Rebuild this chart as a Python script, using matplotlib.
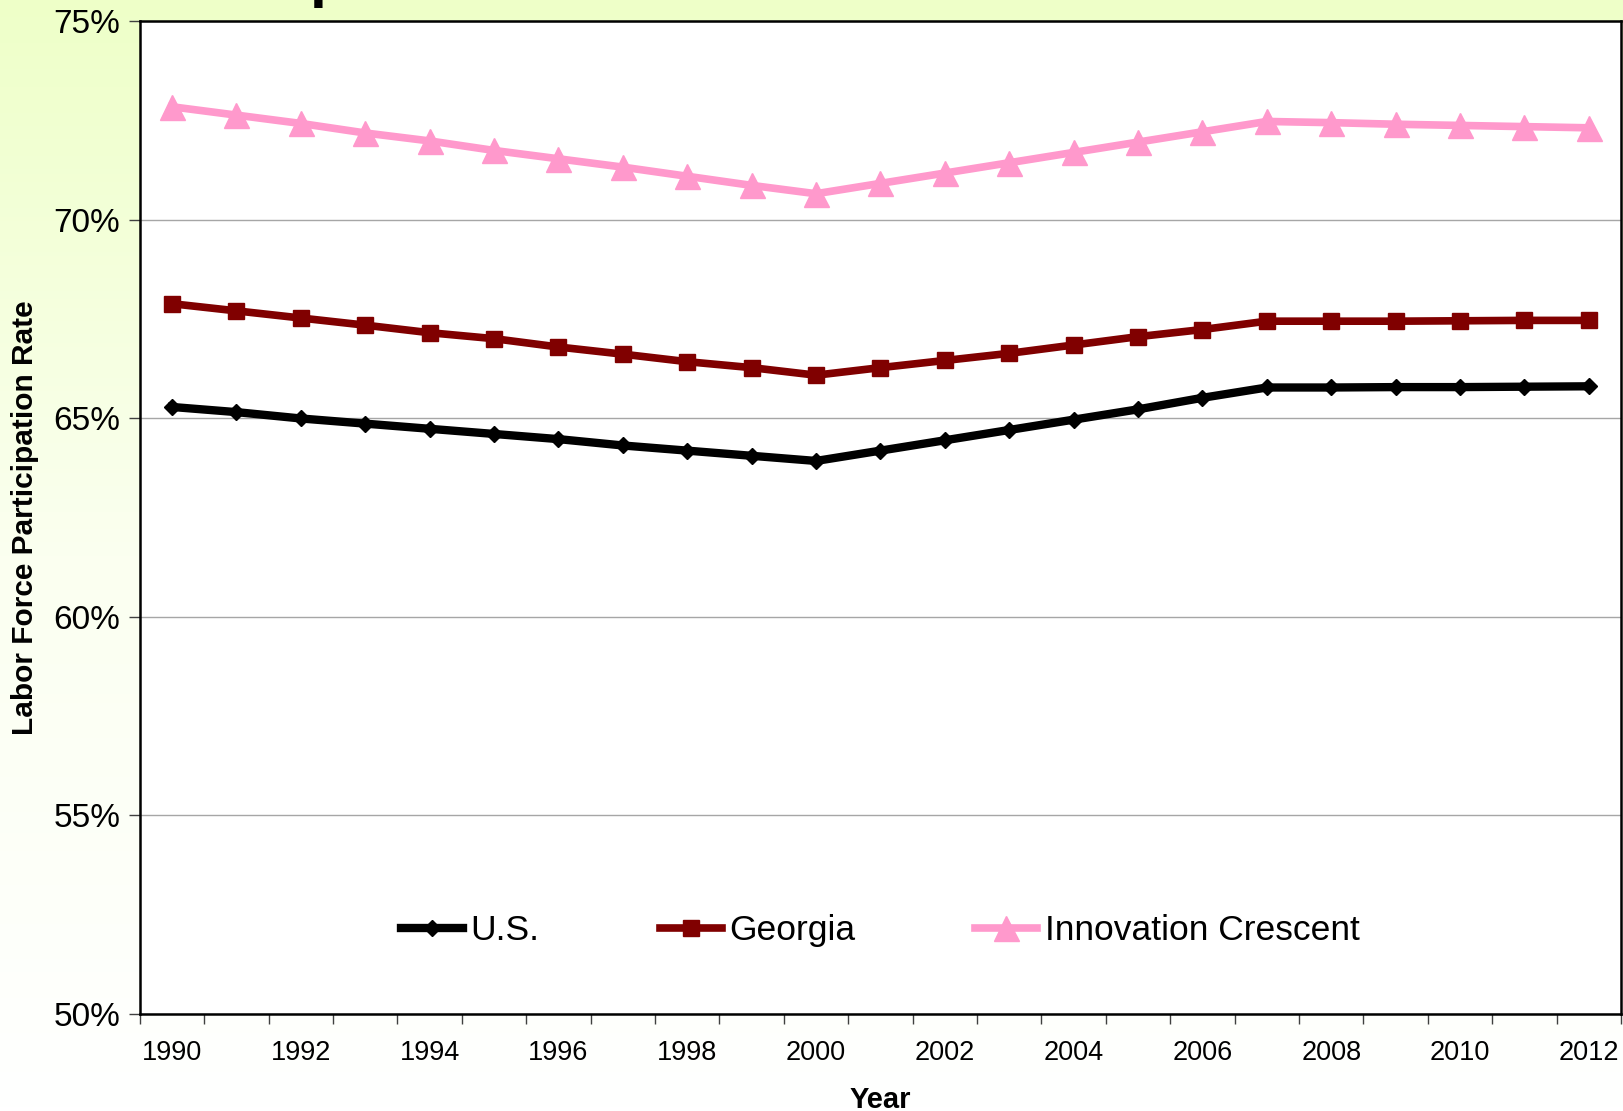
import numpy as np
import matplotlib
matplotlib.use("Agg")
import matplotlib.pyplot as plt
from matplotlib.colors import LinearSegmentedColormap
from matplotlib.ticker import FixedLocator, FuncFormatter

plt.rcParams['font.family'] = ['Liberation Sans', 'DejaVu Sans']

# data
years = list(range(1990, 2013))
us = [65.28, 65.15, 64.99, 64.86, 64.73, 64.60, 64.47, 64.31, 64.18, 64.05, 63.92,
      64.18, 64.44, 64.70, 64.96, 65.22, 65.51, 65.77, 65.77, 65.78, 65.78, 65.79, 65.80]
georgia = [67.88, 67.70, 67.52, 67.34, 67.15, 67.00, 66.79, 66.61, 66.42, 66.27, 66.08,
           66.27, 66.45, 66.63, 66.84, 67.05, 67.23, 67.44, 67.44, 67.44, 67.45, 67.46, 67.46]
crescent = [72.84, 72.63, 72.42, 72.18, 71.98, 71.74, 71.53, 71.32, 71.09, 70.86, 70.65,
            70.91, 71.17, 71.43, 71.69, 71.95, 72.21, 72.47, 72.44, 72.40, 72.37, 72.34, 72.31]
yticks = [50, 55, 60, 65, 70, 75]

fig = plt.figure(figsize=(16.23, 11.11), dpi=100)

# gradient background
bg = fig.add_axes([0, 0, 1, 1], zorder=-10)
cmap = LinearSegmentedColormap.from_list("bg", ["#ffffff", "#fbfff0", "#eeffc8"])
bg.imshow(np.linspace(0, 1, 256).reshape(-1, 1), aspect='auto', cmap=cmap,
          origin='lower', extent=[0, 1, 0, 1])
bg.set_axis_off()

# title sits above the visible area, only the descender of a letter shows
fig.text(310 / 1623, 1 + 4.5 / 1111, "p", fontsize=44, fontweight='bold',
         va='baseline', ha='left', color='black')

ax = fig.add_axes([0.0861, 0.0876, 0.9127, 0.8935])
ax.set_facecolor('white')
x = np.arange(len(years))

ax.plot(x, us, color='black', lw=6, marker='D', ms=8.5, label='U.S.', zorder=3)
ax.plot(x, georgia, color='#800000', lw=5.5, marker='s', ms=11, label='Georgia', zorder=3)
ax.plot(x, crescent, color='#ff99cc', lw=5.5, marker='^', ms=18,
        label='Innovation Crescent', zorder=3)

ax.set_xlim(-0.5, len(years) - 0.5)
ax.set_ylim(50, 75)

ax.set_yticks(yticks)
ax.yaxis.set_major_formatter(FuncFormatter(lambda v, p: "%d%%" % v))
ax.yaxis.grid(True, color='#a6a6a6', lw=1)
ax.set_axisbelow(True)

# category axis: ticks between years, labels on every other year
ax.xaxis.set_major_locator(FixedLocator(np.arange(-0.5, len(years), 1.0)))
ax.xaxis.set_major_formatter(FuncFormatter(lambda v, p: ""))
ax.xaxis.set_minor_locator(FixedLocator(x[::2]))
ax.set_xticklabels([str(y) for y in years[::2]], minor=True)

ax.tick_params(axis='y', labelsize=24, length=8, width=1, color='#404040', pad=6)
ax.tick_params(axis='x', which='major', length=7, width=1, color='#404040')
ax.tick_params(axis='x', which='minor', length=0, labelsize=19.5, pad=19)

for s in ax.spines.values():
    s.set_linewidth(1.8)
    s.set_color('black')

ax.set_ylabel("Labor Force Participation Rate", fontsize=21.5, fontweight='bold', labelpad=10)
ax.set_xlabel("Year", fontsize=21, fontweight='bold', labelpad=14)

ax.legend(loc='lower center', bbox_to_anchor=(0.5, 0.035), ncol=3, frameon=False,
          fontsize=25.5, handlelength=1.75, handletextpad=0.2, columnspacing=3.4)

fig.savefig("out.png", dpi=100)
